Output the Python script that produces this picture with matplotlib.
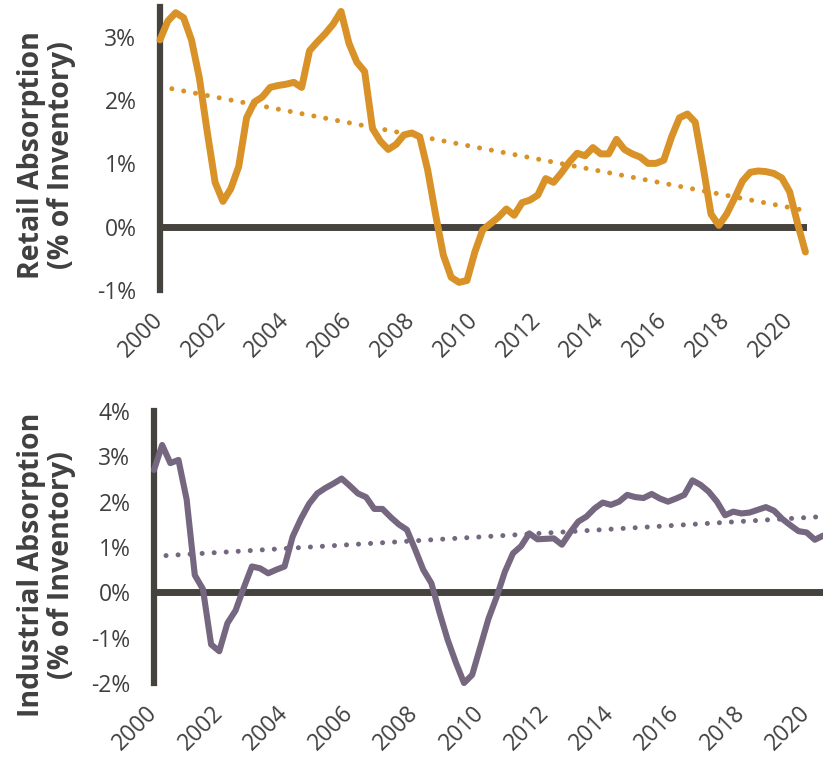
import numpy as np
import matplotlib
matplotlib.use("Agg")
import matplotlib.pyplot as plt

plt.rcParams['font.family'] = ['Open Sans', 'DejaVu Sans']

# Quarterly net absorption, % of inventory (2000 Q1 .. 2020 Q3)
quarters = 2000 + 0.25 * np.arange(83)

retail = [
    2.95, 3.25, 3.38, 3.30,   # 2000
    2.95, 2.35, 1.50, 0.70,   # 2001
    0.40, 0.60, 0.95, 1.72,   # 2002
    1.97, 2.05, 2.20, 2.23,   # 2003
    2.25, 2.28, 2.20, 2.78,   # 2004
    2.92, 3.05, 3.20, 3.40,   # 2005
    2.90, 2.60, 2.45, 1.55,   # 2006
    1.35, 1.22, 1.30, 1.45,   # 2007
    1.48, 1.42, 0.90, 0.20,   # 2008
    -0.45, -0.80, -0.88, -0.85,  # 2009
    -0.40, -0.05, 0.05, 0.15,    # 2010
    0.28, 0.18, 0.38, 0.42,   # 2011
    0.50, 0.76, 0.70, 0.85,   # 2012
    1.02, 1.16, 1.12, 1.25,   # 2013
    1.15, 1.15, 1.38, 1.22,   # 2014
    1.15, 1.10, 1.00, 1.00,   # 2015
    1.05, 1.42, 1.72, 1.78,   # 2016
    1.65, 0.95, 0.20, 0.02,   # 2017
    0.20, 0.45, 0.72, 0.86,   # 2018
    0.88, 0.87, 0.84, 0.77,   # 2019
    0.55, 0.05, -0.40,        # 2020
]

industrial = [
    2.70, 3.25, 2.85, 2.92,   # 2000
    2.05, 0.38, 0.07, -1.15,  # 2001
    -1.30, -0.68, -0.40, 0.10,  # 2002
    0.57, 0.53, 0.42, 0.50,   # 2003
    0.57, 1.23, 1.62, 1.95,   # 2004
    2.18, 2.30, 2.40, 2.51,   # 2005
    2.35, 2.18, 2.10, 1.84,   # 2006
    1.84, 1.66, 1.50, 1.38,   # 2007
    0.95, 0.50, 0.20, -0.45,  # 2008
    -1.05, -1.55, -2.00, -1.82,  # 2009
    -1.20, -0.58, -0.10, 0.45,   # 2010
    0.86, 1.02, 1.30, 1.17,   # 2011
    1.18, 1.19, 1.05, 1.32,   # 2012
    1.56, 1.67, 1.85, 1.98,   # 2013
    1.93, 2.00, 2.15, 2.10,   # 2014
    2.08, 2.17, 2.07, 2.00,   # 2015
    2.07, 2.15, 2.47, 2.37,   # 2016
    2.22, 2.00, 1.70, 1.78,   # 2017
    1.74, 1.76, 1.82, 1.88,   # 2018
    1.80, 1.62, 1.48, 1.35,   # 2019
    1.32, 1.16, 1.25,         # 2020
]

year_ticks = list(range(2000, 2021, 2))
retail_yticks = [-1, 0, 1, 2, 3]
industrial_yticks = [-2, -1, 0, 1, 2, 3, 4]

ORANGE = '#D99227'
PURPLE = '#74677F'
DARK = '#46433E'
TEXT = '#404040'

fig = plt.figure(figsize=(8.23, 7.59), dpi=100)
ax1 = fig.add_axes([160 / 823, 1 - 290 / 759, 647 / 823, 283 / 759])
ax2 = fig.add_axes([154 / 823, 1 - 683 / 759, 669 / 823, 272 / 759])


def style(ax, x, y, color, lw, yticks, ylim, xlim):
    ax.plot(x, y, color=color, lw=lw, solid_joinstyle='round',
            solid_capstyle='round', zorder=3, clip_on=False)
    slope, icept = np.polyfit(x, y, 1)
    xt = np.array([x[0], x[-1]])
    ax.plot(xt, icept + slope * xt, color=color, lw=3.6,
            linestyle=(0, (0.01, 2.4)), dash_capstyle='round', zorder=2,
            clip_on=False)
    ax.axhline(0, color=DARK, lw=5, zorder=1)
    ax.set_xlim(*xlim)
    ax.set_ylim(*ylim)
    for s in ['top', 'right', 'bottom']:
        ax.spines[s].set_visible(False)
    ax.spines['left'].set_color(DARK)
    ax.spines['left'].set_linewidth(4.5)
    ax.set_yticks(yticks)
    ax.set_yticklabels([f'{v}%' for v in yticks])
    ax.set_xticks(year_ticks)
    ax.set_xticklabels([str(v) for v in year_ticks], rotation=45,
                       ha='right', va='center', rotation_mode='anchor')
    ax.tick_params(axis='both', length=0, labelsize=16.5, labelcolor=TEXT)
    ax.tick_params(axis='y', pad=17)
    ax.tick_params(axis='x', pad=19)
    ax.set_facecolor('none')


style(ax1, quarters, retail, ORANGE, 5.0, retail_yticks, (-0.97, 3.47),
      (2000, 2020.55))
style(ax2, quarters, industrial, PURPLE, 4.4, industrial_yticks, (-2, 4),
      (2000, 2020.5))

fig.text(0.056, 1 - 155 / 759, 'Retail Absorption\n(% of Inventory)',
         rotation=90, ha='center', va='center', fontsize=20.5,
         fontweight='bold', color=TEXT, linespacing=1.05)
fig.text(0.056, 1 - 565 / 759, 'Industrial Absorption\n(% of Inventory)',
         rotation=90, ha='center', va='center', fontsize=20.5,
         fontweight='bold', color=TEXT, linespacing=1.05)

fig.savefig('out.png', dpi=100)
